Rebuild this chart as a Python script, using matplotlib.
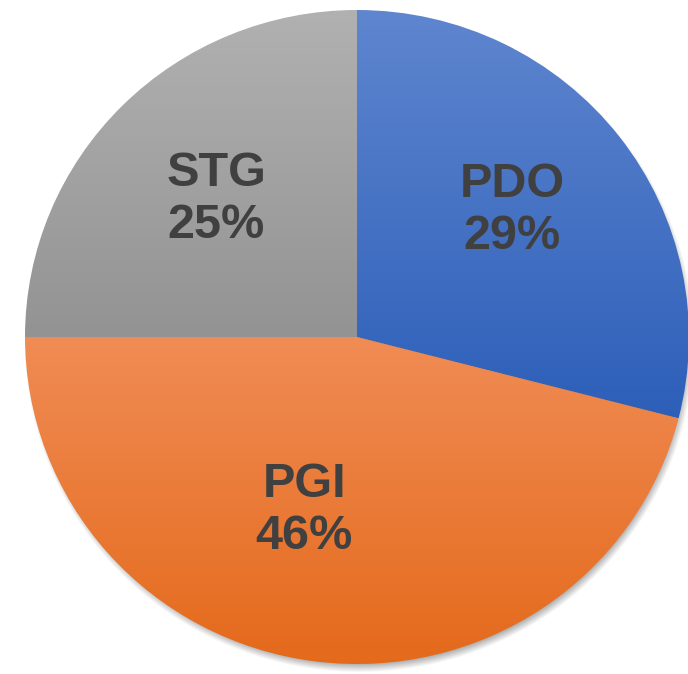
import numpy as np
import matplotlib.pyplot as plt
from matplotlib.colors import LinearSegmentedColormap

labels = ['PDO', 'PGI', 'STG']
shares = [29, 46, 25]
# top / bottom colour of each wedge's gradient
top_cols = ['#5f86cf', '#f08c55', '#b1b1b1']
bot_cols = ['#2d5fb9', '#e4691a', '#939393']

W, H = 688, 674
fig = plt.figure(figsize=(W / 100, H / 100), dpi=100)
ax = fig.add_axes([0, 0, 1, 1])

# pie is slightly squashed vertically in the original
cx, cy_px, rx, ry = 357, 337, 332, 327
s = ry / rx
cy = (H - cy_px) / s

# soft shadow, a bit lower than the pie
yy, xx = np.mgrid[0:H, 0:W]
d = np.hypot((xx - cx - 2) / rx, (yy - cy_px - 5) / ry) * rx
a = np.clip((rx + 3 - d) / 14, 0, 1) * 0.5
sh = np.zeros((H, W, 4))
sh[..., 3] = a
ax.imshow(sh, extent=(0, W, 0, H / s), origin='upper', aspect='auto', zorder=0)

wedges, _ = ax.pie(shares, startangle=90, counterclock=False,
                   center=(cx, cy), radius=rx, frame=True,
                   wedgeprops=dict(linewidth=0))

for w, c0, c1 in zip(wedges, top_cols, bot_cols):
    v = w.get_patch_transform().transform(w.get_path().vertices)
    x0, x1 = v[:, 0].min(), v[:, 0].max()
    y0, y1 = v[:, 1].min(), v[:, 1].max()
    cmap = LinearSegmentedColormap.from_list('g', [c1, c0])
    grad = np.linspace(0, 1, 256).reshape(-1, 1)
    im = ax.imshow(grad, extent=(x0, x1, y0, y1), origin='lower',
                   cmap=cmap, aspect='auto', zorder=2)
    im.set_clip_path(w)
    w.set_facecolor('none')

# label placement: angle tweak (deg) and distance (px) per wedge
tweak = [1.4, -9.8, 0.6]
rads = [200, 181, 197]
for w, lab, v, dt, r in zip(wedges, labels, shares, tweak, rads):
    ang = np.deg2rad((w.theta1 + w.theta2) / 2 + dt)
    ax.text(cx + r * np.cos(ang), cy + r * np.sin(ang) / s, f'{lab}\n{v}%',
            ha='center', va='center', fontsize=35, fontweight='bold',
            family='Liberation Sans', color='#404040', linespacing=1.2,
            zorder=5)

ax.set_aspect('auto')
ax.set_xlim(0, W)
ax.set_ylim(0, H / s)
ax.axis('off')

fig.savefig('out.png', dpi=100)
